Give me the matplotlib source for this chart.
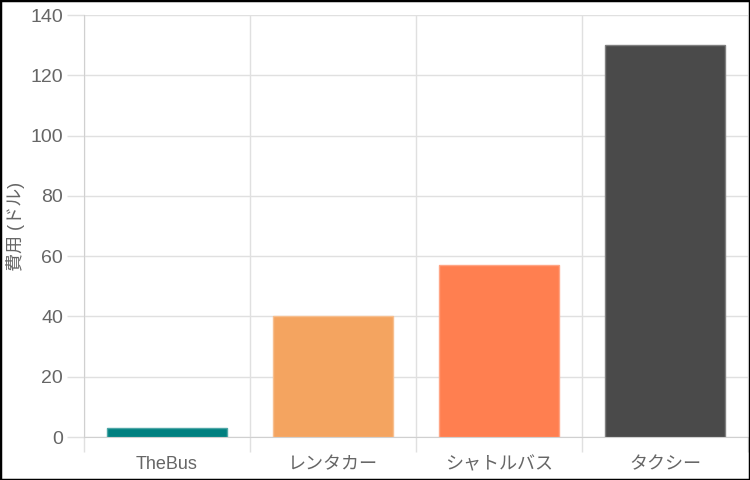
import matplotlib
matplotlib.use("Agg")
import matplotlib.pyplot as plt
from matplotlib.patches import Rectangle

plt.rcParams["font.family"] = ["Liberation Sans", "Noto Sans CJK JP", "DejaVu Sans"]

categories = ["TheBus", "レンタカー", "シャトルバス", "タクシー"]
costs = [3, 40, 57, 130]
colors = ["#008080", "#F4A460", "#FF7F50", "#4A4A4A"]
edges = ["#4DA6A6", "#F7BF8F", "#FFA585", "#808080"]
y_ticks = [0, 20, 40, 60, 80, 100, 120, 140]

fig = plt.figure(figsize=(7.5, 4.8), dpi=100)
ax = fig.add_axes([84 / 750, 1 - 437 / 480, 664 / 750, 422 / 480])

x = list(range(len(categories)))
ax.bar(x, costs, width=0.72, color=colors, edgecolor=edges, linewidth=1, zorder=3)

ax.set_xlim(-0.5, len(categories) - 0.5)
ax.set_ylim(0, 140)
ax.set_yticks(y_ticks)
ax.set_xticks(x)
ax.set_xticklabels(categories)

# category boundary grid lines (Chart.js style)
ax.set_xticks([i - 0.5 for i in range(len(categories) + 1)], minor=True)
ax.grid(True, which="minor", axis="x", color="#e0e0e0", lw=1, zorder=0)
ax.grid(True, which="major", axis="y", color="#e0e0e0", lw=1, zorder=0)
ax.tick_params(axis="x", which="major", length=0, pad=14, labelsize=13, labelcolor="#666666")
ax.tick_params(axis="x", which="minor", length=11, color="#e0e0e0", width=1)
ax.tick_params(axis="y", length=12, color="#e0e0e0", width=1, pad=3, labelsize=14, labelcolor="#666666")

for s in ["top", "right"]:
    ax.spines[s].set_visible(False)
ax.spines["left"].set_color("#d0d0d0")
ax.spines["bottom"].set_color("#d0d0d0")

fig.text(16 / 750, 1 - 226 / 480, "費用 (ドル)", rotation=90, ha="center", va="center",
         fontsize=13, color="#666666")

fig.patches.append(Rectangle((0, 0), 1, 1, transform=fig.transFigure,
                             fill=False, edgecolor="black", lw=2.5, zorder=10))

fig.savefig("out.png", dpi=100)
